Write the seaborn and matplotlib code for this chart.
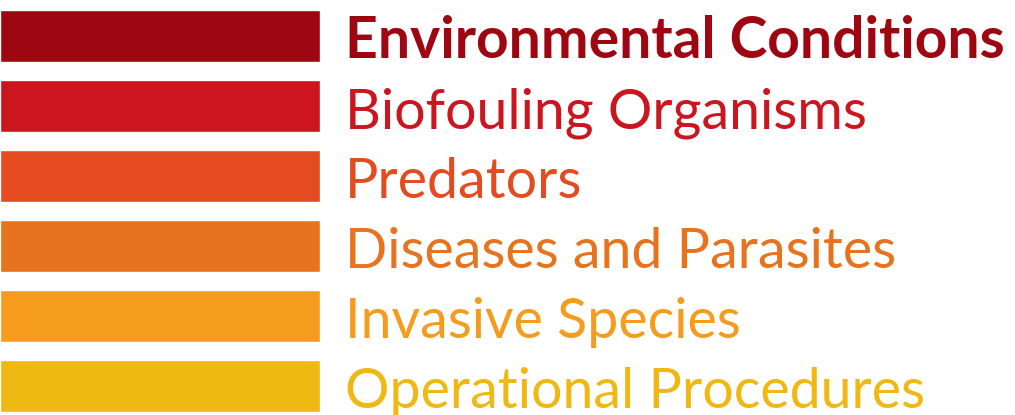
import matplotlib
matplotlib.use('Agg')
import matplotlib.pyplot as plt
import seaborn as sns
import pandas as pd

# dados do grafico
categorias = ['Environmental Conditions', 'Biofouling Organisms', 'Predators',
              'Diseases and Parasites', 'Invasive Species', 'Operational Procedures']
valores = [100, 100, 100, 100, 100, 100]
cores = ['#9E0711', '#CB151F', '#E44B21', '#E8731F', '#F59C1E', '#F0B812']
pesos = ['bold', 'normal', 'normal', 'normal', 'normal', 'normal']

df = pd.DataFrame({'categoria': categorias, 'valor': valores})

sns.set_style('white')
plt.rcParams['font.family'] = ['Lato', 'DejaVu Sans']

fig = plt.figure(figsize=(10.15, 4.15), dpi=100)
ax = fig.add_axes([0, 0, 1, 1])

sns.barplot(data=df, x='valor', y='categoria', hue='categoria', palette=cores,
            orient='h', width=52 / 70, legend=False, ax=ax, saturation=1)

ax.set_xlim(0, 100 * 1015 / 320)
ax.set_ylim(415 / 70 - 36 / 70, -36 / 70)

for i, (cat, val) in enumerate(zip(categorias, valores)):
    tamanho = 41 if pesos[i] == 'bold' else 40
    ax.text(val * 345 / 320, i + 0.32, cat, color=cores[i], fontsize=tamanho,
            fontweight=pesos[i], va='baseline', ha='left')

ax.axis('off')
fig.savefig('out.png', dpi=100)
